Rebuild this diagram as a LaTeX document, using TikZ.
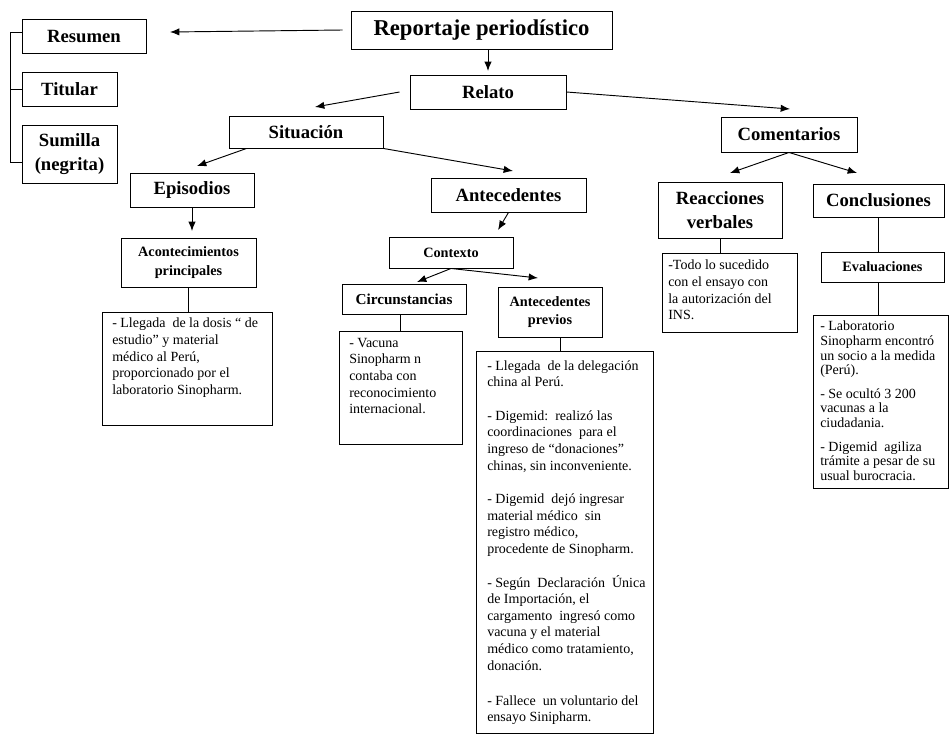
\documentclass[tikz,border=0pt]{standalone}
\usepackage{fontspec}
\setmainfont{Liberation Serif}
\usetikzlibrary{arrows.meta}
\newcommand\mytightlines{\lineskiplimit=-5pt\relax}
\begin{document}
\begin{tikzpicture}[x=0.75pt,y=-0.75pt,
  box/.style={draw, line width=0.7pt, inner sep=0pt, align=center, font=\bfseries\fontsize{14}{17.5}\selectfont},
  small/.style={font=\bfseries\fontsize{10.7}{14}\selectfont},
  body/.style={anchor=north west, align=left, inner sep=0pt, font=\fontsize{10.5}{12.4}\selectfont},
  tight/.style={font=\fontsize{10.5}{10.9}\selectfont\mytightlines},
  arr/.style={-{Latex[length=7pt,width=5.5pt]}, line width=0.7pt},
  ln/.style={line width=0.7pt}]
\useasboundingbox (0,0) rectangle (952,736);

% title boxes
\node[box, minimum width=195.75pt, minimum height=28.5pt, font=\bfseries\fontsize{17}{20}\selectfont] (rep) at (481.5,30) {Reportaje periodístico};
\node[box, minimum width=93pt, minimum height=25.5pt] (res) at (84,36) {Resumen};
\node[box, minimum width=71.25pt, minimum height=25.5pt] (tit) at (69.5,89) {Titular};
\node[box, minimum width=71.25pt, minimum height=43.5pt] (sum) at (69.5,154) {Sumilla\\(negrita)};
\node[box, minimum width=117pt, minimum height=25.5pt] (rel) at (488,92) {Relato};
\node[box, minimum width=115.5pt, minimum height=24pt] (sit) at (306,132) {Situación};
\node[box, minimum width=102pt, minimum height=26.25pt] (com) at (789,134.5) {Comentarios};
\node[box, minimum width=93pt, minimum height=25.5pt] (epi) at (192,190) {Episodios};
\node[box, minimum width=116.25pt, minimum height=25.5pt] (ant) at (508.5,195) {Antecedentes};
\node[box, minimum width=93pt, minimum height=42pt] (rea) at (720,210) {Reacciones\\verbales};
\node[box, minimum width=98.25pt, minimum height=24.75pt] (con) at (878.5,200.5) {Conclusiones};
\node[box, small, minimum width=101.25pt, minimum height=36.75pt] (aco) at (188.5,262.5) {Acontecimientos\\principales};
\node[box, small, minimum width=93pt, minimum height=23.25pt] (ctx) at (451,252.5) {Contexto};
\node[box, minimum width=93pt, minimum height=22.5pt, font=\bfseries\fontsize{11.4}{14}\selectfont] (cir) at (404,299) {Circunstancias};
\node[box, small, minimum width=78pt, minimum height=37.5pt] (apr) at (550,312) {Antecedentes\\previos};
\node[box, small, minimum width=92.25pt, minimum height=22.5pt] (eva) at (882.5,267) {Evaluaciones};

% text boxes
\node[box, minimum width=127.5pt, minimum height=84.75pt] (b1) at (187,368.5) {};
\node[box, minimum width=92.25pt, minimum height=84.75pt] (b2) at (400.5,387.5) {};
\node[box, minimum width=132.75pt, minimum height=286.5pt] (b3) at (564.5,542) {};
\node[box, minimum width=101.25pt, minimum height=59.25pt] (b4) at (729.5,292.5) {};
\node[box, minimum width=101.25pt, minimum height=129.75pt] (b5) at (880.5,401.5) {};

\node[body] (t1) at (112,318) {- Llegada\ \ de la dosis “ de\\estudio” y material\\médico al Perú,\\proporcionado por el\\laboratorio Sinopharm.};
\node[body] (t2) at (349,338) {- Vacuna\\Sinopharm n\\contaba con\\reconocimiento\\internacional.};
\node[body] (t3) at (487,360) {- Llegada\ \ de la delegación\\china al Perú.\\[13pt]- Digemid:\ \ realizó las\\coordinaciones\ \ para el\\ingreso de “donaciones”\\chinas, sin inconveniente.\\[13pt]- Digemid\ \ dejó ingresar\\material médico\ \ sin\\registro médico,\\procedente de Sinopharm.\\[13pt]- Según\ \ Declaración\ \ Única\\de Importación, el\\cargamento\ \ ingresó como\\vacuna y el material\\médico como tratamiento,\\donación.\\[14pt]- Fallece\ \ un voluntario del\\ensayo Sinipharm.};
\node[body] (t4) at (668,260) {-Todo lo sucedido\\con el ensayo con\\la autorización del\\INS.};
\node[body, tight] (t5) at (820,321) {- Laboratorio\\Sinopharm encontró\\un socio a la medida\\(Perú).\\[7pt]- Se ocultó 3 200\\vacunas a la\\ciudadania.\\[7pt]- Digemid\ \ agiliza\\trámite a pesar de su\\usual burocracia.};

% arrow tips and corner points
\coordinate (p1) at (170,32);
\coordinate (p2) at (488,71);
\coordinate (p3) at (315,107);
\coordinate (p4) at (790,109);
\coordinate (p5) at (197,166);
\coordinate (p6) at (513,171);
\coordinate (p7) at (192,231);
\coordinate (p9) at (498,230);
\coordinate (p10) at (417,282);
\coordinate (p11) at (538,278);
\coordinate (p14) at (730,173);
\coordinate (p15) at (857,173);
\coordinate (bk1) at (10,32);
\coordinate (bk2) at (10,162);

% connectors
\draw[arr] ([xshift=-6pt]rep.west) -- (p1);
\draw[arr] (rep.south -| rel.north) -- (p2);
\draw[arr] ([xshift=-7.5pt]rel.west) -- (p3);
\draw[arr] (rel.east) -- (p4);
\draw[arr] ([xshift=13.5pt]sit.south west) -- (p5);
\draw[arr] (sit.south east) -- (p6);
\draw[arr] (epi.south) -- (p7);
\draw[ln] (aco.south) -- (aco.south |- b1.north);
\draw[arr] (ant.south) -- (p9);
\draw[arr] (ctx.south) -- (p10);
\draw[arr] (ctx.south) -- (p11);
\draw[ln] (b2.north |- cir.south) -- (b2.north);
\draw[ln] ([xshift=-3pt]b3.north |- apr.south) -- ([xshift=-3pt]b3.north);
\draw[arr] (com.south) -- (p14);
\draw[arr] (com.south) -- (p15);
\draw[ln] (rea.south) -- (rea.south |- b4.north);
\draw[ln] (con.south) -- (con.south |- eva.north);
\draw[ln] (con.south |- eva.south) -- (con.south |- b5.north);
\draw[ln] (res.west |- bk1) -- (bk1) -- (bk2) -- (sum.west |- bk2);
\draw[ln] (tit.west) -- (tit.west -| bk1);
\end{tikzpicture}
\end{document}
